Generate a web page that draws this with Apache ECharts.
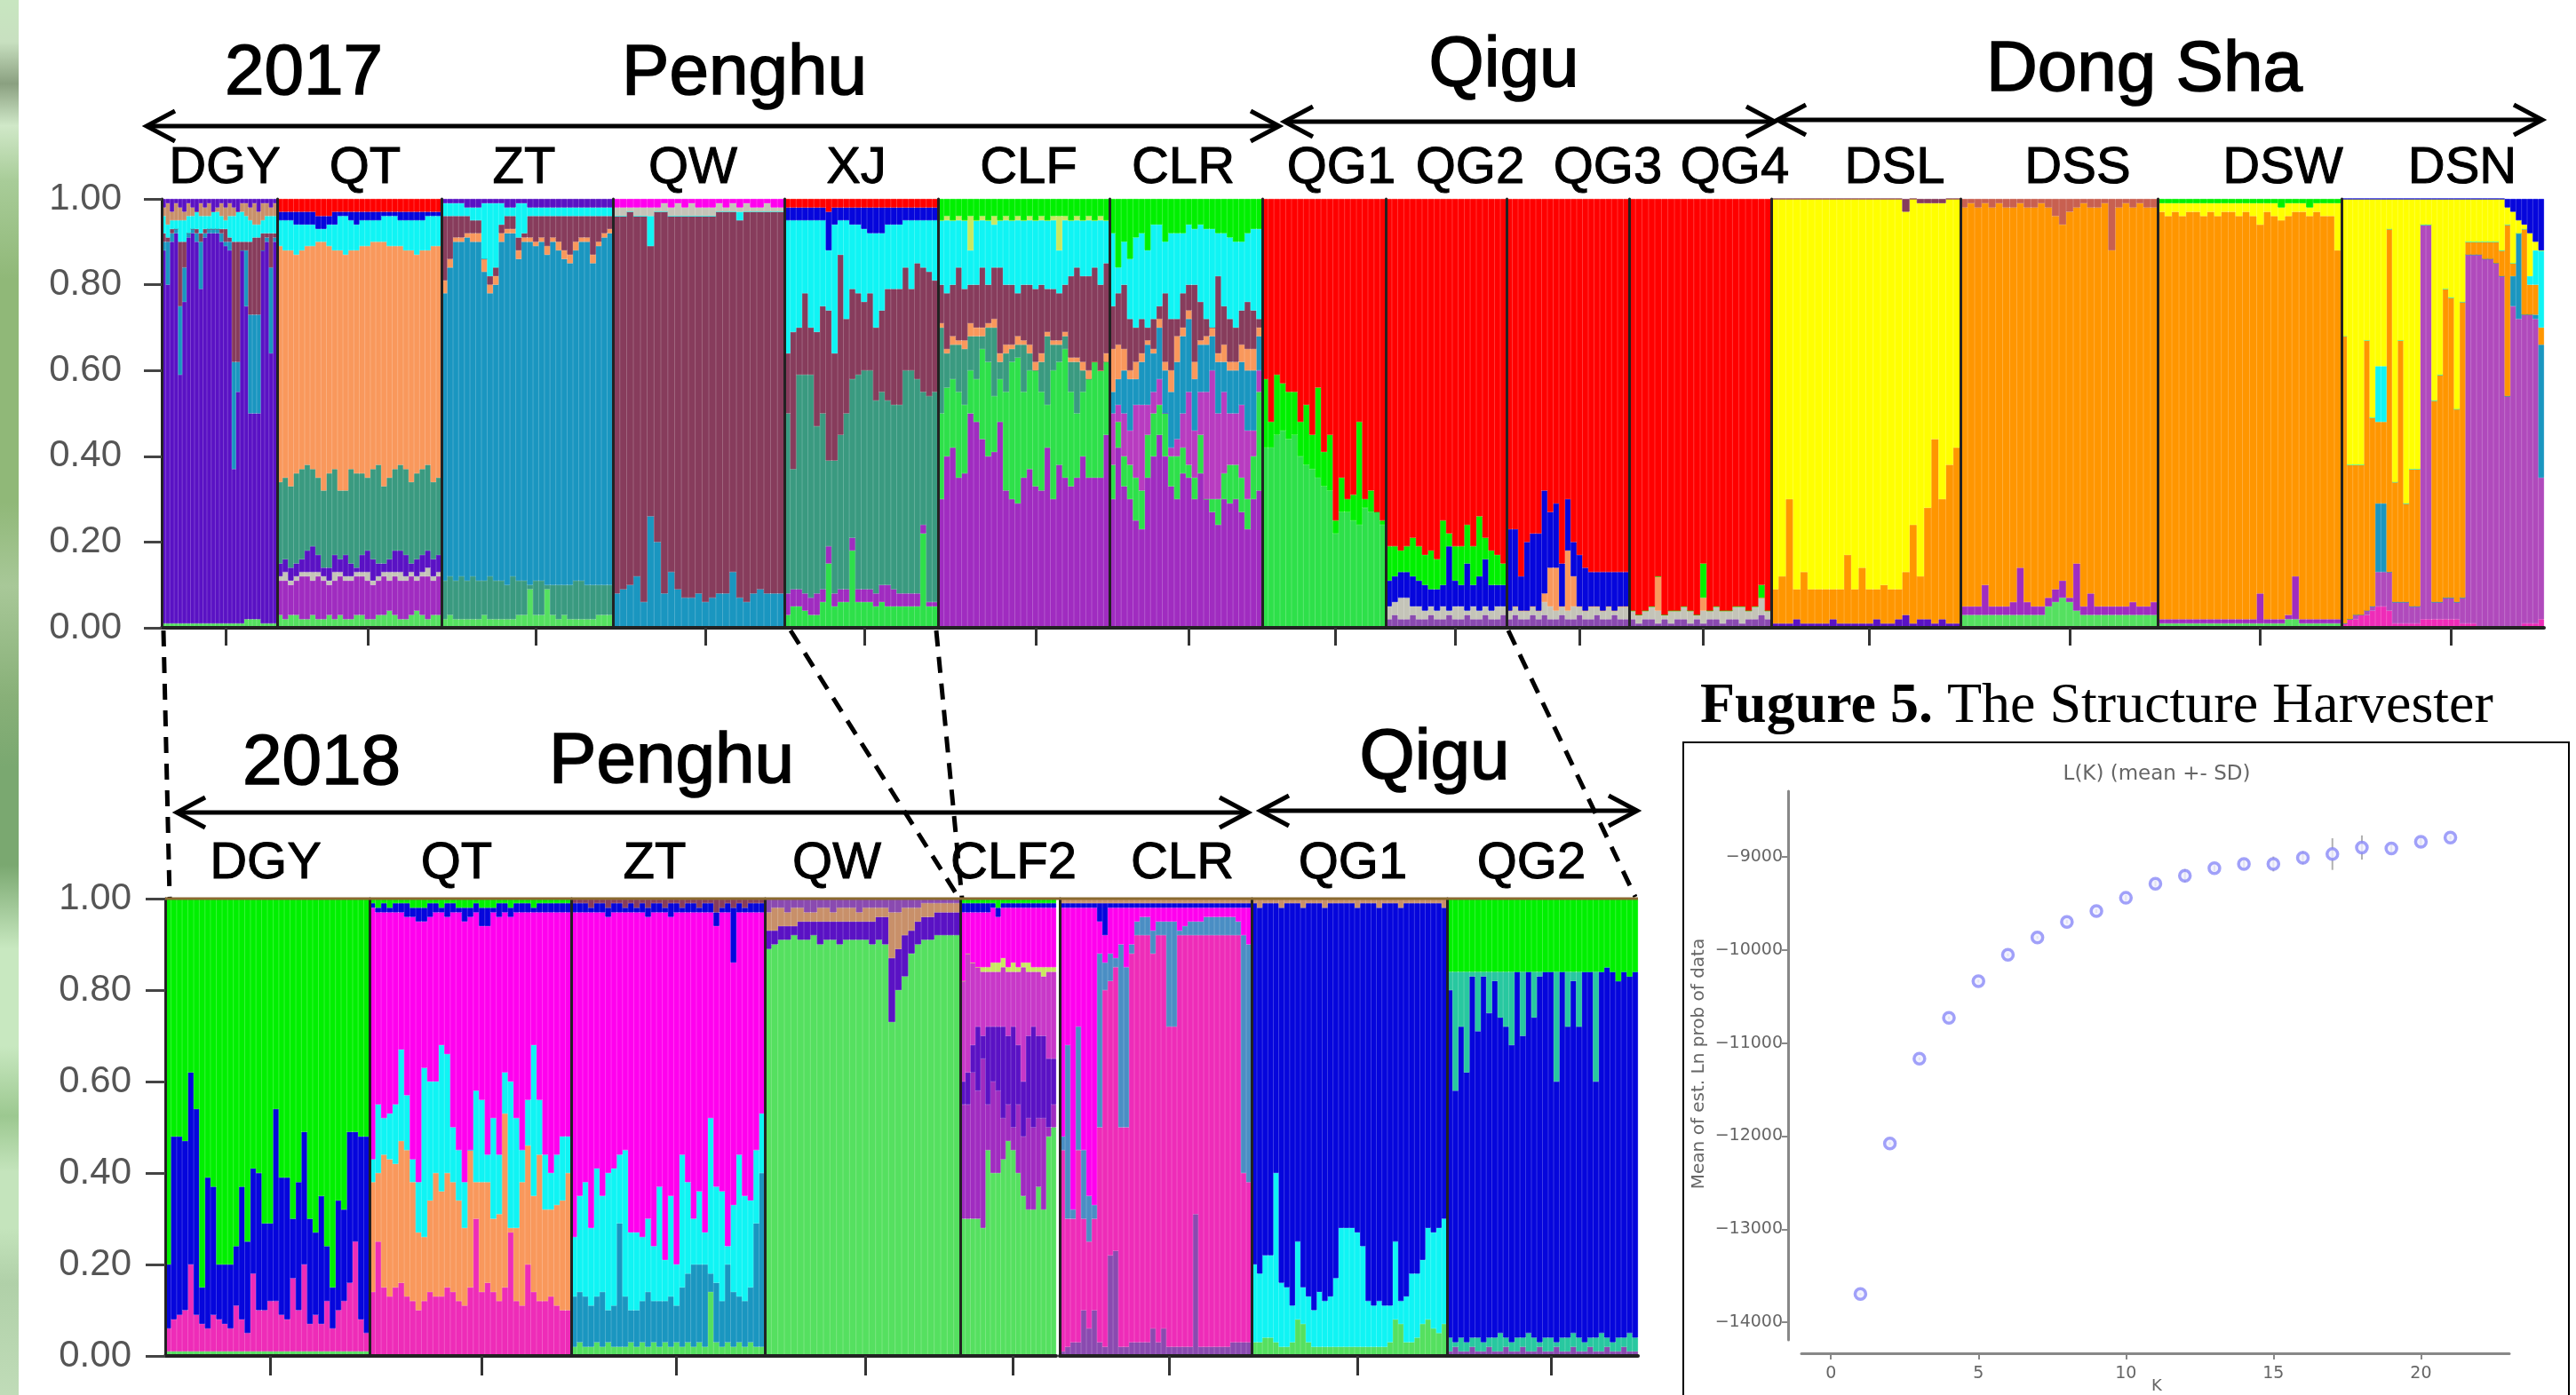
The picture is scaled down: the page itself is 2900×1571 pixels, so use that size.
<!DOCTYPE html>
<html><head><meta charset="utf-8">
<style>html,body{margin:0;padding:0;background:#fff}#c{width:2900px;height:1571px;filter:blur(0.6px)}</style>
<script src="https://cdn.jsdelivr.net/npm/echarts@6/dist/echarts.min.js"></script>
</head><body><div id="c"></div>
<script>
// ---------- 2017 panel: cumulative top (%) of each cluster, one number per individual; last cluster fills to 100 ----------
const DGY17=[['lime',[1,1,1,1,1,1,1,1,1,1,1,1,1,1,1,1,1,1,1,1,2,2,2,2,1,1,1,1]],
['indigo',[88,80,90,92,59,76,91,92,90,79,91,92,92,92,90,89,88,37,55,88,75,50,50,50,88,90,64,90]],
['steel',[90,90,92,93,75,84,92,93,92,90,92,93,93,93,92,90,90,62,62,88,88,73,73,73,88,91,84,91]],
['maroon',[92,91,93,93,90,90,92,93,93,92,93,93,93,93,93,93,91,90,90,90,90,90,91,91,92,92,92,92]],
['cyan',[96,94,95,95,95,95,96,96,97,96,96,96,97,97,96,95,96,96,97,97,96,95,94,94,95,96,96,96]],
['mixO',[98,99,97,99,98,97,99,98,97,99,98,99,97,98,99,98,99,98,97,99,99,98,99,97,99,99,98,99]],['indigo']];
const QT17=[['lime',[3,2,3,3,2,2,3,2,2,3,2,3,2,2,3,3,2,2,3,3,4,3,2,2,3,4,3,2,3,3]],
['violet',[11,11,10,11,12,12,11,12,11,10,11,12,11,11,12,12,11,10,11,12,11,12,11,11,12,11,12,12,11,12]],
['mix',[12,13,11,12,13,13,13,13,12,11,13,13,12,12,13,13,13,11,12,13,13,13,13,12,13,12,13,14,12,13]],
['indigo',[15,16,14,15,16,18,19,17,14,14,17,16,17,15,14,17,18,16,15,15,16,18,18,17,15,16,17,18,16,17]],
['teal',[34,35,33,36,37,38,37,35,32,36,37,32,32,37,36,36,35,37,38,33,35,37,38,37,34,36,37,38,34,35]],
['peach',[89,88,88,87,88,89,89,90,90,89,88,88,87,88,88,89,89,90,90,90,89,89,89,88,88,87,88,88,89,89]],
['cyan',[95,95,95,94,94,94,94,93,93,94,94,96,96,95,94,95,95,95,95,96,96,96,95,95,95,95,95,96,96,96]],
['blue',[97,97,97,97,97,97,97,96,96,96,97,97,97,97,97,97,97,97,97,97,97,97,97,97,97,97,97,97,97,97]],['red']];
const ZT17=[['lime',[2,3,2,2,2,2,2,3,2,2,2,2,2,3,3,9,3,3,9,3,2,3,2,2,2,2,2,3,3,3]],
['teal',[11,12,11,12,11,12,11,11,12,11,11,10,12,11,11,10,11,11,10,10,10,10,10,11,11,10,10,10,10,10]],
['steel',[78,84,90,90,91,90,90,83,78,80,90,92,92,86,90,90,89,90,87,90,88,86,85,88,90,90,85,89,91,92]],
['peach',[81,86,91,91,92,92,92,86,80,82,92,93,93,88,91,91,90,91,89,91,90,88,87,90,91,91,87,90,92,93]],
['maroon',[96,96,96,96,96,95,95,86,82,84,94,96,96,91,92,96,96,96,96,96,96,96,96,96,96,96,96,96,96,96]],
['cyan',[99,99,99,99,98,98,98,99,99,99,99,98,98,99,99,98,98,98,98,98,98,98,98,98,98,98,98,98,98,98]],['indigo']];
const QW17=[['steel',[8,9,10,12,6,26,20,8,13,9,7,7,8,6,7,8,8,13,7,6,8,9,8,8,8]],
['maroon',[96,96,97,96,96,89,97,97,96,96,96,96,96,96,96,97,97,97,95,97,97,97,97,97,97]],
['cyan',[96,96,97,96,96,96,97,97,96,96,96,96,96,96,96,97,97,97,97,97,97,97,97,97,97]],
['mix',[98,98,98,98,98,98,98,99,98,99,98,99,98,98,98,99,98,99,98,99,98,98,99,98,98]],['magenta']];
const XJ17=[['green',[3,5,5,4,3,3,6,15,5,6,6,18,6,6,6,5,6,5,5,5,5,5,5,22,5,5]],
['violet',[8,9,9,8,7,8,9,19,8,9,9,21,9,9,9,8,10,10,9,8,8,8,8,24,6,6]],
['teal',[50,37,59,59,59,47,50,39,39,45,50,58,59,60,60,53,55,53,52,52,60,60,58,55,54,55]],
['maroon',[64,69,70,78,70,69,75,74,64,87,72,79,78,76,78,70,74,79,79,79,84,79,85,84,83,81]],
['cyan',[95,95,95,95,95,95,95,88,94,95,95,94,94,93,92,92,92,94,94,94,95,95,95,95,95,95]],
['blue',[98,98,98,98,98,98,98,97,98,98,98,98,98,98,98,98,98,98,98,98,98,98,98,98,98,98]],['red']];
const CLF17=[['violet',[30,40,42,35,36,50,48,44,40,41,48,32,30,29,35,37,33,32,42,30,38,35,33,35,40,35,35,35,45]],
['green',[50,56,58,55,52,60,58,65,62,54,58,55,62,63,55,60,60,55,52,60,62,65,55,50,55,58,62,60,62]],
['teal',[70,64,66,66,65,68,68,68,70,70,62,64,65,66,66,64,60,62,68,66,66,68,62,62,60,58,58,58,62]],
['peach',[71,65,68,67,67,71,70,70,71,72,64,66,66,68,67,66,62,64,69,67,67,69,63,63,62,60,59,60,64]],
['maroon',[80,78,80,84,79,80,80,84,80,84,84,80,80,78,80,80,79,80,79,79,78,80,82,84,82,82,84,80,85]],
['cyan',[95,95,95,95,95,88,95,95,95,94,95,95,95,95,95,95,95,95,95,95,88,95,95,95,95,95,95,95,95]],
['olive',[95,96,95,96,95,96,95,96,95,96,95,96,95,96,95,96,95,96,95,96,96,96,95,96,95,96,95,96,95]],['bright']];
const CLR17=[['violet',[30,42,33,30,25,23,35,40,45,40,33,30,36,35,30,36,30,27,24,30,29,30,27,23,30,32]],
['green',[38,48,40,38,35,32,45,50,52,50,40,40,42,38,35,45,30,30,30,36,38,38,35,30,40,55]],
['magenta2',[50,52,50,46,52,52,52,55,58,48,42,44,50,55,46,55,55,60,50,55,50,50,52,46,46,60]],
['steel',[55,58,60,58,58,62,66,64,70,60,55,62,68,72,58,66,66,68,62,62,60,60,62,60,60,68]],
['peach',[65,66,65,60,62,64,67,65,72,62,60,68,70,74,62,67,68,70,64,66,62,62,66,65,65,70]],
['maroon',[75,78,80,72,70,72,70,72,75,78,72,72,78,80,80,76,72,70,82,75,72,70,74,76,74,72]],
['cyan',[92,84,90,86,91,92,88,94,94,90,92,92,92,94,93,94,93,93,92,92,91,90,90,92,93,93]],['bright']];
const QG1_17=[['green',[42,42,45,46,44,45,40,38,37,35,33,32,22,27,27,25,24,28,27,27,24]],
['bright',[58,48,59,57,55,55,48,52,45,56,41,45,25,35,30,31,48,30,32,27,25]],['red']];
const QG2_17=[['mauve',[2,3,2,2,3,2,2,3,2,2,3,2,2,3,2,2,3,2,2,3]],
['mix',[5,6,7,7,5,5,4,5,4,5,4,5,5,4,5,4,5,4,5,5]],
['blue',[11,12,13,13,12,11,10,9,9,10,19,11,10,15,10,12,16,10,10,10]],
['bright',[19,19,18,19,21,19,17,18,16,25,22,19,19,24,19,26,21,18,17,15]],['red']];
const QG3_17=[['mauve',[2,3,2,2,3,2,3,2,2,3,2,2,3,2,2,3,2,2,3,2,2]],
['mix',[4,5,4,4,5,4,6,5,4,5,4,5,5,4,5,5,4,5,4,5,5]],
['peach',[4,5,4,4,5,4,8,14,14,5,18,12,5,4,5,5,4,5,4,5,5]],
['blue',[23,23,12,20,22,22,32,27,29,15,30,20,17,14,13,13,13,13,13,13,13]],['red']];
const QG4_17=[['mauve',[2,1,2,2,1,2,1,2,2,1,2,1,2,2,1,2,2,1,2,2,3,2]],
['mix',[4,3,4,5,4,3,4,4,5,4,3,4,4,5,4,4,5,5,4,5,7,4]],
['peach',[4,3,4,5,12,3,4,4,5,4,3,7,4,5,4,4,5,5,4,5,7,4]],
['bright',[4,3,4,5,12,3,4,4,5,4,3,15,4,5,4,4,5,5,4,5,10,4]],['red']];
const DSL17=[['indigo',[1,1,1,2,1,1,1,1,2,1,1,1,1,1,2,1,1,2,3,1,2,2,1,2,1,1]],
['orange',[9,12,30,9,13,9,9,9,9,9,17,9,14,9,9,10,9,9,13,24,12,28,44,30,38,42]],
['yellow',[100,100,100,100,100,100,100,100,100,100,100,100,100,100,100,100,100,100,97,100,99,99,99,99,100,100]],['maroon']];
const DSS17=[['lime',[3,3,3,3,3,3,3,3,3,3,3,3,5,6,7,6,4,3,3,3,3,3,3,3,3,3,3,3]],
['violet',[5,5,5,10,5,5,5,6,14,6,5,5,7,9,11,7,15,5,8,5,5,5,5,5,6,5,5,6]],
['orange',[98,99,98,99,98,99,98,98,99,98,98,99,98,96,94,97,98,99,98,98,99,88,98,99,98,99,98,98]],['rose']];
const DSW17=[['lime',[1,1,1,1,1,1,1,1,1,1,1,1,1,1,1,1,1,1,2,2,1,1,1,1,1,1]],
['violet',[2,2,2,2,2,2,2,2,2,2,2,2,2,2,8,2,2,2,3,12,2,2,2,2,2,2]],
['orange',[97,96,97,96,97,97,96,97,96,97,97,96,97,96,94,97,96,95,96,97,97,96,97,96,96,88]],
['yellow',[99,99,99,99,99,99,99,99,99,99,99,99,99,99,99,99,99,98,99,99,99,98,99,99,99,99]],['bright']];
const DSN17=[['pink',[1,2,2,3,3,4,5,5,4,1,1,1,1,1,2,2,2,2,2,2,2,1,1,1,0,0,0,0,0,0,0,0,1,1,1,2]],
['orchid',[1,2,3,3,4,5,13,13,13,6,6,6,5,5,94,94,6,6,7,7,6,7,87,87,87,86,86,85,82,54,75,72,73,73,72,35]],
['steel',[1,2,3,3,4,5,29,29,13,6,6,6,5,5,94,94,6,6,7,7,6,7,87,87,87,86,86,85,82,54,82,92,73,73,73,66]],
['orange',[68,38,38,38,67,49,48,48,93,34,67,29,37,37,94,94,53,59,79,77,51,76,90,90,90,90,90,90,88,94,85,92,93,80,80,70]],
['cyan',[68,38,38,38,67,49,61,61,93,34,67,29,37,37,94,94,53,59,79,77,51,76,90,90,90,90,90,90,88,94,85,92,93,82,88,88]],
['yellow',[100,100,100,100,100,100,100,100,100,100,100,100,100,100,100,100,100,100,100,100,100,100,100,100,100,100,100,100,100,98,97,95,94,92,90,88]],['blue']];
// ---------- 2018 panel ----------
const DGY18=[['lime',[1,1,1,1,1,1,1,1,1,1,1,1,1,1,1,1,1,1,1,1,1,1,1,1,1,1,1,1,1,1,1,1,1,1,1,1]],
['pink',[6,8,9,10,20,9,7,6,9,8,7,6,11,8,5,18,10,10,12,12,9,8,17,10,20,7,9,7,12,6,10,12,16,25,8,5]],
['blue',[20,48,48,47,62,54,15,39,37,20,20,20,24,37,25,41,40,29,29,54,39,39,30,38,49,30,27,35,24,15,34,32,49,49,48,48]],['bright']];
const QT18=[['pink',[14,25,15,13,15,16,13,12,10,12,14,13,13,15,14,12,11,15,30,14,16,14,12,15,27,12,11,20,14,12,12,13,11,10,10]],
['peach',[38,40,44,43,42,47,45,38,27,26,34,40,36,40,38,34,28,45,38,38,38,30,31,53,28,28,38,46,35,44,32,32,33,34,40]],
['cyan',[43,55,52,53,55,67,57,43,38,63,60,60,68,66,50,45,38,45,58,56,44,52,44,62,60,52,45,56,68,56,44,40,44,48,48]],
['magenta',[98,97,97,97,97,97,96,96,95,95,96,97,97,96,97,97,95,96,97,94,94,97,96,97,96,97,97,97,97,97,97,97,97,97,97]],
['blue',[99,98,99,98,99,99,99,98,98,98,99,99,98,99,99,98,98,98,99,98,98,98,99,99,98,99,99,99,98,99,99,99,99,99,99]],['bright']];
const ZT18=[['lime',[2,3,2,2,3,2,3,2,2,2,3,2,3,2,3,2,3,2,3,2,3,2,3,2,14,3,2,3,2,3,2,3,2,2]],
['steel',[13,14,13,11,13,14,10,11,29,13,10,10,12,14,12,12,12,13,11,15,18,20,20,20,18,16,12,20,14,13,12,15,29,40]],
['cyan',[26,35,38,28,41,35,40,41,44,45,27,27,26,30,24,37,21,35,20,44,38,30,36,27,52,37,36,24,33,44,35,34,45,53]],
['magenta',[97,97,97,97,97,97,96,97,97,97,97,97,97,96,97,97,97,96,97,97,97,97,97,97,97,94,97,97,86,97,97,97,97,97]],
['blue',[99,99,99,98,99,99,98,99,99,98,99,98,99,98,99,99,98,99,99,98,99,99,98,99,99,97,98,99,98,99,98,99,99,99]],['maroon']];
const QW18=[['lime',[89,90,91,91,92,91,91,92,90,91,91,90,91,91,91,91,90,91,90,73,80,83,88,90,91,91,92,92,92,92]],
['indigo',[93,93,94,94,94,95,95,95,95,95,95,95,95,95,95,95,95,96,96,87,89,92,93,95,96,96,97,97,97,97]],
['mixO',[97,98,98,97,98,98,97,97,98,98,97,98,98,98,97,98,98,98,98,97,97,98,98,98,99,99,99,99,99,99]],['mauve']];
const CLF18=[['lime',[30,30,30,30,28,45,40,40,43,47,45,40,35,32,32,37,32,48,50]],
['violet',[55,55,62,58,65,55,60,58,52,55,50,55,48,52,50,52,52,50,55]],
['indigo',[60,62,68,72,70,72,72,72,72,70,72,68,60,70,72,70,70,65,65]],
['orchidP',[82,88,86,85,84,84,84,84,85,84,84,84,85,84,84,84,83,84,84]],
['olive',[82,88,86,85,85,85,86,86,87,85,86,85,86,86,85,85,85,85,85]],
['magenta',[97,97,97,97,97,97,98,96,98,98,98,98,98,98,98,98,98,98,98]],
['blue',[99,99,99,99,99,99,99,98,99,99,99,99,99,99,99,99,99,99,99]],['bright']];
const CLR18=[['mauve',[1,2,3,3,10,6,10,3,2,22,23,2,2,3,3,3,3,6,3,6,2,2,2,2,2,31,2,2,2,2,2,2,3,3,3,3]],
['pink',[45,30,30,45,30,25,30,50,80,82,85,50,50,88,92,92,92,88,92,92,72,72,92,92,92,92,92,92,92,92,92,92,92,92,40,38]],
['steelB',[48,68,32,72,45,35,33,88,86,88,87,90,85,90,95,96,96,93,95,95,95,95,93,94,95,95,95,96,96,96,96,96,96,95,92,90]],
['magenta',[98,98,98,98,98,98,98,95,92,98,98,98,98,98,98,98,98,98,98,98,98,98,98,98,98,98,98,98,98,98,98,98,98,98,98,98]],
['blue',[99,99,99,99,99,99,99,99,99,99,99,99,99,99,99,99,99,99,99,99,99,99,99,99,99,99,99,99,99,99,99,99,99,99,99,99]],['mixO']];
const QG1_18=[['lime',[3,3,4,4,3,2,2,3,8,7,3,2,2,2,2,2,2,2,2,2,2,2,2,2,2,3,8,7,3,3,4,7,8,6,5,7]],
['cyan',[20,18,22,22,40,16,15,11,25,15,13,10,14,12,13,17,28,28,28,27,24,12,11,12,11,11,25,12,13,18,18,21,28,27,28,30]],
['blue',[99,98,99,99,99,98,99,99,99,98,99,99,99,98,99,99,99,99,99,98,99,99,99,98,99,99,99,98,99,99,99,99,99,99,99,98]],['mixO']];
const QG2_18=[['mauve',[1,2,1,1,2,1,1,2,1,1,2,1,1,2,1,1,2,1,1,2,1,1,2,1,1,2,1,1,2,1,1,2,1,1]],
['mint',[4,3,4,3,4,4,3,4,4,5,4,3,4,4,5,4,3,4,4,3,4,4,5,4,3,4,4,5,4,3,4,4,5,4]],
['blue',[80,58,72,62,83,71,83,75,82,74,72,68,84,70,84,74,83,84,84,60,84,72,82,72,84,84,60,84,85,84,82,84,83,84]],
['mint',[84,84,84,84,84,84,84,84,84,84,84,84,84,84,84,84,84,84,84,84,84,84,84,84,84,84,84,84,85,84,82,84,83,84]],['bright']];
// ---------- L(K) panel ----------
const kValues=[1,2,3,4,5,6,7,8,9,10,11,12,13,14,15,16,17,18,19,20,21];
const meanLnP=[-13697,-12079,-11169,-10729,-10335,-10052,-9865,-9698,-9581,-9440,-9288,-9202,-9121,-9076,-9076,-9010,-8970,-8899,-8909,-8838,-8793];
const sdLnP=[10,15,15,15,15,15,15,20,20,30,30,70,30,40,80,70,170,130,40,50,20];
const yTicksK=[-14000,-13000,-12000,-11000,-10000,-9000];
const xTicksK=[0,5,10,15,20];

const colors={lime:'#55e060',green:'#2ee04a',bright:'#00f000',indigo:'#5a12c4',steel:'#1a96c0',steelB:'#4a8ec4',teal:'#3a9a80',peach:'#f9985c',
maroon:'#873c5c',cyan:'#10f4f4',blue:'#0606dc',violet:'#a02cc0',magenta:'#ff00ee',magenta2:'#b83cc0',pink:'#ee2cb8',orchidP:'#c838c8',red:'#ff0000',yellow:'#ffff00',
orange:'#ff9600',orchid:'#b04abc',mix:'#c4c4b8',mixO:'#c8906a',olive:'#c8e860',mauve:'#8a4ab0',mint:'#28c8a0',rose:'#c86050'};

// layout: [label, left px, right px, data, tick px]
const panel17={top:224,bottom:707,tick:20,labelMargin:45,pops:[['DGY',182,312,DGY17,253],['QT',312,497,QT17,411],['ZT',497,690,ZT17,605],['QW',690,883,QW17,797],['XJ',883,1056,XJ17,976],['CLF',1056,1249,CLF17,1163],['CLR',1249,1421,CLR17,1341],['QG1',1421,1560,QG1_17,1501],['QG2',1560,1696,QG2_17,1638],['QG3',1696,1834,QG3_17,1776],['QG4',1834,1994,QG4_17,1920],['DSL',1994,2207,DSL17,2108],['DSS',2207,2429,DSS17,2328],['DSW',2429,2636,DSW17,2541],['DSN',2636,2864,DSN17,2762]]};
const panel18={top:1012,bottom:1527,tick:22,labelMargin:38,pops:[['DGY',186,416,DGY18,305],['QT',416,643,QT18,541],['ZT',643,861,ZT18,762],['QW',861,1081,QW18,976],['CLF2',1081,1189,CLF18,1141],['CLR',1193,1409,CLR18,1316],['QG1',1409,1629,QG1_18,1528],['QG2',1629,1844,QG2_18,1749]]};

const grid=[],xAxis=[],yAxis=[],series=[];
function addPanel(p){
  p.pops.forEach((pop,pi)=>{
    const [name,l,r,layers,tickX]=pop, gi=grid.length, N=layers[0][1].length, first=pi===0;
    grid.push({left:l,width:r-l,top:p.top,height:p.bottom-p.top,containLabel:false});
    const tIdx=Math.round((tickX-l)/((r-l)/N)-0.5);
    xAxis.push({type:'category',gridIndex:gi,data:layers[0][1].map((_,i)=>name+(i+1)),boundaryGap:true,z:5,
      axisLine:{show:true,lineStyle:{color:'#222',width:4}},
      axisTick:{show:true,alignWithLabel:true,length:p.tick,interval:i=>i===tIdx,lineStyle:{color:'#333',width:3}},axisLabel:{show:false},splitLine:{show:false}});
    yAxis.push({type:'value',gridIndex:gi,min:0,max:1,interval:0.2,z:5,splitLine:{show:false},
      axisLine:{show:true,lineStyle:{color:'#222',width:3}},
      axisTick:{show:first,length:p.tick,lineStyle:{color:'#444',width:3}},
      axisLabel:{show:first,margin:p.labelMargin,padding:[0,0,5,0],formatter:v=>v.toFixed(2),fontFamily:'Liberation Sans',fontSize:42,color:'#555'}});
    const prev=new Array(N).fill(0);
    layers.forEach(([c,tops])=>{
      const d=prev.map((pv,i)=>{const t=tops?tops[i]:100;const v=Math.max(0,t-pv);prev[i]=Math.max(pv,t);return v/100;});
      series.push({type:'bar',name:name+' '+c,stack:'s'+gi,xAxisIndex:gi,yAxisIndex:gi,data:d,barCategoryGap:'0%',
        itemStyle:{color:colors[c],borderColor:colors[c],borderWidth:0.8},silent:true});
    });
  });
}
addPanel(panel17);addPanel(panel18);

// L(K) grid
const kg=grid.length;
grid.push({left:2028,top:891,width:797,height:618,containLabel:false});
const fmt=v=>String(v).replace('-','\u2212');
xAxis.push({type:'value',gridIndex:kg,min:-1,max:23,offset:15,position:'bottom',splitLine:{show:false},
  axisLine:{onZero:false,lineStyle:{color:'#888',width:3}},axisTick:{show:true,customValues:xTicksK,length:7,lineStyle:{color:'#888',width:2}},
  axisLabel:{customValues:xTicksK,margin:14,fontFamily:'DejaVu Sans',fontSize:19,color:'#666'}});
yAxis.push({type:'value',gridIndex:kg,min:-14190,max:-8294,offset:15,position:'left',splitLine:{show:false},
  axisLine:{onZero:false,lineStyle:{color:'#888',width:3}},axisTick:{show:true,customValues:yTicksK,length:7,lineStyle:{color:'#888',width:2}},
  axisLabel:{customValues:yTicksK,margin:6,formatter:fmt,fontFamily:'DejaVu Sans',fontSize:19,color:'#666'}});
series.push({type:'custom',name:'SD',xAxisIndex:kg,yAxisIndex:kg,silent:true,z:3,
  data:kValues.map((k,i)=>[k,meanLnP[i]-sdLnP[i],meanLnP[i]+sdLnP[i]]),
  renderItem:(params,api)=>{const a=api.coord([api.value(0),api.value(1)]),b=api.coord([api.value(0),api.value(2)]);
    return {type:'line',shape:{x1:a[0],y1:a[1],x2:b[0],y2:b[1]},style:{stroke:'#b0b0b0',lineWidth:2}};}});
series.push({type:'scatter',name:'L(K)',xAxisIndex:kg,yAxisIndex:kg,z:4,symbol:'circle',symbolSize:12,silent:true,
  data:kValues.map((k,i)=>[k,meanLnP[i]]),itemStyle:{color:'#f0f0ff',borderColor:'#8a8af8',borderWidth:3.5}});

// annotations
const T=(t,x,y,size,extra)=>Object.assign({type:'text',z:50,style:Object.assign({text:t,x:x,y:y,fontFamily:'Liberation Sans',fontSize:size,fill:'#000',textAlign:'center',textVerticalAlign:'middle',stroke:'#000',lineWidth:size>70?1.6:1},extra||{})});
const L=(pts,extra)=>({type:'polyline',z:40,shape:{points:pts},style:Object.assign({stroke:'#000',lineWidth:5,fill:null},extra||{})});
const arrow=(x1,x2,y)=>[L([[x1,y],[x2,y]]),L([[x1+32,y-17],[x1,y],[x1+32,y+17]]),L([[x2-32,y-17],[x2,y],[x2-32,y+17]])];
const g=[];
g.push({type:'rect',z:1,shape:{x:0,y:0,width:21,height:1571},style:{fill:{type:'linear',x:0,y:0,x2:0,y2:1,colorStops:[
 [0,'#c8e6c0'],[0.03,'#c8e0c0'],[0.06,'#8aa080'],[0.09,'#d0e8c8'],[0.13,'#a8cc98'],[0.2,'#90b878'],[0.36,'#90b878'],[0.42,'#a8c898'],[0.5,'#88b078'],[0.55,'#7aa870'],[0.62,'#7aa870'],[0.68,'#c8e8c0'],[0.75,'#c8e8c0'],[0.8,'#9cc890'],[0.84,'#c4e4bc'],[0.88,'#c4e4bc'],[0.92,'#b0d0a8'],[1,'#c0dcb8']].map(s=>({offset:s[0],color:s[1]}))}}});
[[253,'DGY'],[411,'QT'],[590,'ZT'],[780,'QW'],[964,'XJ'],[1158,'CLF'],[1332,'CLR'],[1510,'QG1'],[1655,'QG2'],[1810,'QG3'],[1953,'QG4'],[2133,'DSL'],[2339,'DSS'],[2570,'DSW'],[2772,'DSN']].forEach(a=>g.push(T(a[1],a[0],190,58)));
[[299,'DGY'],[514,'QT'],[737,'ZT'],[942,'QW'],[1141,'CLF2'],[1331,'CLR'],[1523,'QG1'],[1724,'QG2']].forEach(a=>g.push(T(a[1],a[0],973,58)));
g.push(T('2017',342,84,80),T('Penghu',838,84,80),T('Qigu',1693,75,80),T('Dong Sha',2414,80,80));
g.push(T('2018',362,861,80),T('Penghu',756,859,80),T('Qigu',1615,855,80));
g.push(...arrow(165,1440,142),...arrow(1446,1998,137),...arrow(2001,2862,135),...arrow(199,1405,915),...arrow(1419,1843,913));
const dash={lineDash:[18,12],lineWidth:5};
g.push(L([[184,710],[191,1012]],dash),L([[890,710],[1080,1012]],dash),L([[1054,710],[1083,1012]],dash),L([[1698,710],[1841,1010]],dash));
g.push(L([[186,1012],[1844,1012]],{stroke:'#8a6a30',lineWidth:3}));
g.push({type:'rect',z:2,shape:{x:1895,y:836,width:997,height:800},style:{fill:'none',stroke:'#000',lineWidth:2}});
g.push({type:'text',z:50,style:{text:'{b|Fugure 5.} The Structure Harvester',x:1914,y:796,fontFamily:'Liberation Serif',fontSize:64,fill:'#000',textVerticalAlign:'middle',rich:{b:{fontWeight:'bold',fontFamily:'Liberation Serif',fontSize:64}}}});
g.push(T('L(K) (mean +- SD)',2428,872,23,{fontFamily:'DejaVu Sans',fill:'#666',lineWidth:0}));
g.push(T('K',2428,1561,18,{fontFamily:'DejaVu Sans',fill:'#666',lineWidth:0}));
g.push({type:'text',z:50,x:1913,y:1198,rotation:Math.PI/2,style:{text:'Mean of est. Ln prob of data',x:0,y:0,fontFamily:'DejaVu Sans',fontSize:20,fill:'#666',textAlign:'center',textVerticalAlign:'middle'}});

const chart=echarts.init(document.getElementById('c'),null,{renderer:'canvas',width:2900,height:1571});
chart.setOption({animation:false,backgroundColor:'#fff',tooltip:{show:false},grid,xAxis,yAxis,series,graphic:{elements:g}});
</script></body></html>
